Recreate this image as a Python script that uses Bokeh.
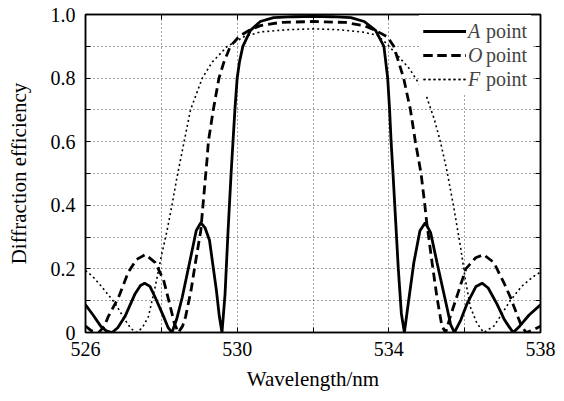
from bokeh.plotting import figure
from bokeh.models import FixedTicker, Legend, LegendItem, LinearAxis, ColumnDataSource
from bokeh.embed import file_html
from bokeh.resources import INLINE

# ---- data ----
wl_a = [526.0, 526.2, 526.4, 526.55, 526.7, 526.85, 527.04, 527.3, 527.45, 527.56, 527.7, 527.84,
        528.06, 528.18, 528.28, 528.4, 528.55, 528.78, 528.92, 529.04, 529.15, 529.27, 529.45,
        529.53, 529.6, 529.68, 529.76, 529.84, 529.89, 529.94, 530.0, 530.06, 530.15, 530.35,
        530.61, 530.96, 531.5, 532.0, 532.5, 533.0, 533.35, 533.65, 533.87, 533.97, 534.02,
        534.06, 534.11, 534.18, 534.25, 534.33, 534.41, 534.5, 534.66, 534.82, 534.96, 535.1,
        535.27, 535.53, 535.63, 535.73, 535.9, 536.06, 536.3, 536.46, 536.62, 536.85, 537.05,
        537.16, 537.28, 537.45, 537.7, 538.0]
eff_a = [0.087, 0.055, 0.02, 0.005, 0.0, 0.015, 0.05, 0.12, 0.148, 0.155, 0.145, 0.11,
         0.05, 0.015, 0.0, 0.04, 0.11, 0.24, 0.32, 0.345, 0.33, 0.29, 0.135,
         0.05, 0.0, 0.12, 0.32, 0.5, 0.6, 0.7, 0.8, 0.85, 0.9, 0.95,
         0.978, 0.99, 0.993, 0.994, 0.993, 0.99, 0.978, 0.95, 0.9, 0.8, 0.7,
         0.6, 0.5, 0.35, 0.2, 0.06, 0.0, 0.08, 0.22, 0.32, 0.345, 0.315,
         0.22, 0.08, 0.025, 0.0, 0.04, 0.09, 0.145, 0.155, 0.14, 0.09, 0.04,
         0.02, 0.0, 0.02, 0.055, 0.087]

wl_o = [526.0, 526.15, 526.35, 526.5, 526.6, 526.87, 527.13, 527.35, 527.58, 527.84, 528.06,
        528.24, 528.34, 528.45, 528.56, 528.64, 528.78, 528.9, 529.04, 529.12, 529.21, 529.24,
        529.37, 529.52, 529.65, 529.82, 530.04, 530.31, 530.61, 531.14, 532.0, 532.85, 533.35,
        533.65, 533.96, 534.13, 534.26, 534.39, 534.57, 534.7, 534.85, 534.95, 535.0, 535.14,
        535.27, 535.4, 535.5, 535.62, 535.84, 536.03, 536.29, 536.5, 536.77, 537.04, 537.21,
        537.4, 537.5, 537.62, 537.8, 538.0]
eff_o = [0.02, 0.006, 0.0, 0.02, 0.05, 0.11, 0.19, 0.23, 0.245, 0.22, 0.165,
         0.08, 0.03, 0.0, 0.02, 0.05, 0.13, 0.22, 0.32, 0.43, 0.55, 0.6,
         0.7, 0.8, 0.85, 0.9, 0.93, 0.95, 0.965, 0.975, 0.978, 0.975, 0.965,
         0.95, 0.93, 0.9, 0.85, 0.8, 0.7, 0.6, 0.5, 0.4, 0.345, 0.22,
         0.11, 0.02, 0.0, 0.05, 0.13, 0.2, 0.235, 0.245, 0.22, 0.155, 0.11,
         0.05, 0.02, 0.0, 0.008, 0.02]

wl_f = [526.0, 526.2, 526.42, 526.78, 527.04, 527.2, 527.35, 527.5, 527.66, 527.84, 528.0,
        528.15, 528.28, 528.4, 528.55, 528.77, 529.08, 529.34, 529.74, 530.18, 530.61, 531.3,
        532.0, 532.7, 533.3, 533.69, 533.93, 534.24, 534.54, 534.81, 535.0, 535.2, 535.36,
        535.53, 535.71, 535.89, 536.02, 536.15, 536.32, 536.5, 536.77, 536.99, 537.2, 537.5,
        537.8, 538.0]
eff_f = [0.195, 0.175, 0.145, 0.092, 0.04, 0.012, 0.0, 0.015, 0.05, 0.145, 0.24,
         0.32, 0.40, 0.48, 0.57, 0.7, 0.8, 0.85, 0.9, 0.93, 0.945, 0.952,
         0.955, 0.952, 0.945, 0.935, 0.91, 0.87, 0.83, 0.78, 0.74, 0.67, 0.6,
         0.51, 0.395, 0.27, 0.165, 0.08, 0.03, 0.0, 0.02, 0.06, 0.1, 0.145,
         0.175, 0.19]

series_letters = ["A", "O", "F"]
series_suffix = "point"
x_ticks = [526, 528, 530, 532, 534, 536, 538]
x_tick_labels = {526: "526", 528: "", 530: "530", 532: "", 534: "534", 536: "", 538: "538"}
y_ticks = [0.0, 0.1, 0.2, 0.3, 0.4, 0.5, 0.6, 0.7, 0.8, 0.9, 1.0]
y_tick_labels = {0.0: "0", 0.1: "", 0.2: "0.2", 0.3: "", 0.4: "0.4", 0.5: "", 0.6: "0.6",
                 0.7: "", 0.8: "0.8", 0.9: "", 1.0: "1.0"}
x_title = "Wavelength/nm"
y_title = "Diffraction efficiency"

FONT = "Liberation Serif"

p = figure(width=556, height=393, x_range=(526, 538), y_range=(0, 1),
           output_backend="svg", toolbar_location=None,
           min_border_left=85, min_border_top=14, min_border_right=16, min_border_bottom=59)
p.background_fill_color = "white"
p.border_fill_color = "white"
p.outline_line_color = "black"
p.outline_line_width = 1.5

# grid
p.xgrid.ticker = FixedTicker(ticks=[528, 530, 532, 534, 536])
p.ygrid.ticker = FixedTicker(ticks=[0.1, 0.2, 0.3, 0.4, 0.5, 0.6, 0.7, 0.8, 0.9])
for g in (p.xgrid, p.ygrid):
    g.grid_line_color = "black"
    g.grid_line_alpha = 0.75
    g.grid_line_dash = "1 3"
    g.grid_line_width = 1

# axes
xa = p.xaxis[0]
ya = p.yaxis[0]
xa.ticker = FixedTicker(ticks=x_ticks)
xa.major_label_overrides = x_tick_labels
ya.ticker = FixedTicker(ticks=y_ticks)
ya.major_label_overrides = y_tick_labels
xa.axis_label = x_title
ya.axis_label = y_title
for ax in (xa, ya):
    ax.axis_line_color = "black"
    ax.axis_line_width = 1.5
    ax.major_tick_in = 5
    ax.major_tick_out = 0
    ax.minor_tick_line_color = None
    ax.major_tick_line_color = "black"
    ax.major_label_text_font = FONT
    ax.major_label_text_font_size = "20px"
    ax.major_label_text_color = "black"
    ax.axis_label_text_font = FONT
    ax.axis_label_text_font_size = "21px"
    ax.axis_label_text_font_style = "normal"
    ax.axis_label_text_color = "black"
xa.major_label_standoff = 9
xa.axis_label_standoff = 8
ya.major_label_standoff = 10
ya.axis_label_standoff = 17

# mirrored axes (ticks only, empty labels)
ra = LinearAxis(ticker=FixedTicker(ticks=y_ticks),
                major_label_overrides={t: "" for t in y_ticks},
                major_tick_in=5, major_tick_out=0, minor_tick_line_color=None,
                axis_line_color="black", axis_line_width=1.5, major_label_standoff=0)
ta = LinearAxis(ticker=FixedTicker(ticks=x_ticks),
                major_label_overrides={t: "" for t in x_ticks},
                major_tick_in=5, major_tick_out=0, minor_tick_line_color=None,
                axis_line_color="black", axis_line_width=1.5, major_label_standoff=0)
p.add_layout(ra, "right")
p.add_layout(ta, "above")

src_a = ColumnDataSource(dict(x=wl_a, y=eff_a))
src_o = ColumnDataSource(dict(x=wl_o, y=eff_o))
src_f = ColumnDataSource(dict(x=wl_f, y=eff_f))

r_a = p.line("x", "y", source=src_a, line_color="black", line_width=2.8)
r_o = p.line("x", "y", source=src_o, line_color="black", line_width=2.8, line_dash="9 5")
r_f = p.line("x", "y", source=src_f, line_color="black", line_width=1.6, line_dash="2 3")
renderers = [r_a, r_o, r_f]

# legend: line sample + italic letter + "point" (two stacked legends)
LEG_X, LEG_PAD, ROW_H, GLYPH_W = 334, 4, 24, 43
LEG_TOP = 317
loc = (LEG_X, LEG_TOP - (2 * LEG_PAD + 3 * ROW_H))
common = dict(location=loc, margin=0, padding=LEG_PAD, spacing=0,
              glyph_width=GLYPH_W, glyph_height=ROW_H, label_height=ROW_H,
              label_text_font=FONT, label_text_font_size="20px", border_line_alpha=0)
legend_words = Legend(items=[LegendItem(label=series_suffix, renderers=[r]) for r in renderers],
                      label_standoff=20, background_fill_color="white",
                      background_fill_alpha=1, **common)
legend_letters = Legend(items=[LegendItem(label=l, renderers=[r])
                               for l, r in zip(series_letters, renderers)],
                        label_standoff=2, label_text_font_style="italic",
                        background_fill_alpha=0, **common)
p.add_layout(legend_words)
p.add_layout(legend_letters)

open("out.html", "w").write(file_html(p, INLINE))
